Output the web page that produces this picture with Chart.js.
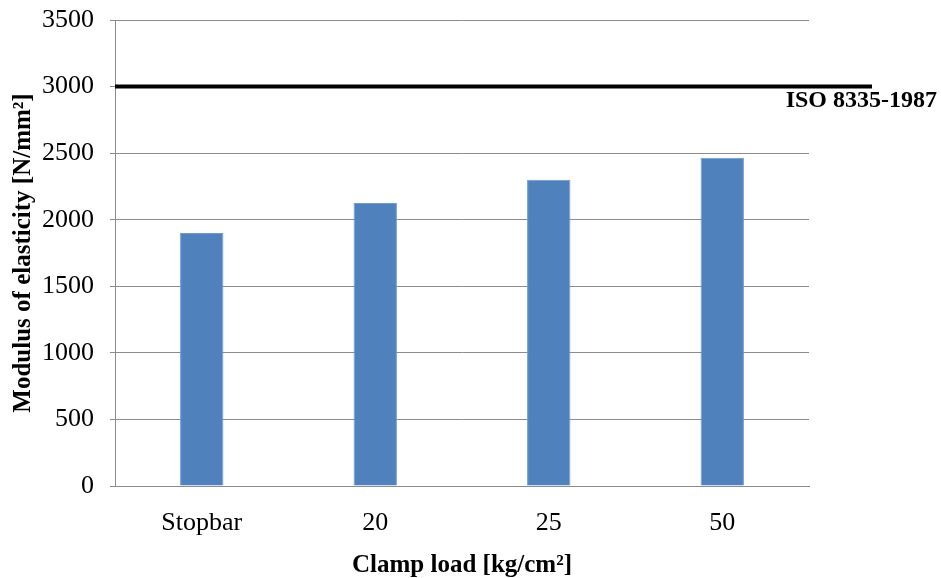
<!DOCTYPE html>
<html>
<head>
<meta charset="utf-8">
<script src="https://cdn.jsdelivr.net/npm/chart.js@4"></script>
<style>
  html, body { margin: 0; padding: 0; background: #ffffff; }
  #wrap { width: 941px; height: 578px; }
</style>
</head>
<body>
<div id="wrap"><canvas id="chart" width="941" height="578"></canvas></div>
<script>
// Clamp load categories and measured modulus of elasticity
const categories = ['Stopbar', '20', '25', '50'];
const modulusValues = [1900, 2125, 2300, 2465];
const yTickValues = [0, 500, 1000, 1500, 2000, 2500, 3000, 3500];
const isoLimit = 3000;
const isoLabel = 'ISO 8335-1987';

const serif = "'Liberation Serif', 'Times New Roman', serif";
const gridGrey = '#8c8c8c';

// Horizontal reference line for the ISO requirement, running past the plot area
const isoLinePlugin = {
  id: 'isoLine',
  afterDatasetsDraw(chart) {
    const { ctx, chartArea, scales } = chart;
    const y = scales.y.getPixelForValue(isoLimit);
    ctx.save();
    ctx.strokeStyle = '#000000';
    ctx.lineWidth = 4;
    ctx.beginPath();
    ctx.moveTo(chartArea.left, y);
    ctx.lineTo(chartArea.right + 63, y);
    ctx.stroke();
    ctx.fillStyle = '#000000';
    ctx.font = "bold 24px " + serif;
    ctx.textAlign = 'right';
    ctx.textBaseline = 'alphabetic';
    ctx.fillText(isoLabel, chart.width - 4, y + 20);
    ctx.restore();
  }
};

new Chart(document.getElementById('chart'), {
  type: 'bar',
  data: {
    labels: categories,
    datasets: [{
      data: modulusValues,
      backgroundColor: '#4f81bd',
      borderColor: '#6f9bd0',
      borderWidth: 1,
      categoryPercentage: 1,
      barPercentage: 0.25
    }]
  },
  options: {
    responsive: false,
    animation: false,
    layout: { padding: { top: 20, right: 132, left: 0, bottom: 0 } },
    plugins: {
      legend: { display: false },
      tooltip: { enabled: false }
    },
    scales: {
      x: {
        grid: { display: false },
        border: { display: true, color: gridGrey, width: 1 },
        ticks: { color: '#000000', font: { family: serif, size: 26 }, padding: 14 },
        title: {
          display: true,
          text: 'Clamp load [kg/cm²]',
          color: '#000000',
          font: { family: serif, size: 25, weight: 'bold', lineHeight: 1 },
          padding: { top: 4, bottom: 0 }
        },
        afterFit(scale) {
          scale.height = 92;
          scale.paddingLeft = 0;
          scale.paddingRight = 0;
        }
      },
      y: {
        min: 0,
        max: 3500,
        afterBuildTicks(scale) { scale.ticks = yTickValues.map(v => ({ value: v })); },
        grid: { color: gridGrey, lineWidth: 1, tickLength: 5, drawTicks: true },
        border: { display: true, color: gridGrey, width: 1 },
        ticks: {
          color: '#000000',
          font: { family: serif, size: 26 },
          padding: 16,
          callback: v => String(v)
        },
        title: {
          display: true,
          text: 'Modulus of elasticity [N/mm²]',
          color: '#000000',
          font: { family: serif, size: 25, weight: 'bold', lineHeight: 1 },
          padding: { top: 11, bottom: 4 }
        },
        afterFit(scale) {
          scale.width = 115;
          scale.paddingTop = 0;
          scale.paddingBottom = 0;
        }
      }
    }
  },
  plugins: [isoLinePlugin]
});
</script>
</body>
</html>
